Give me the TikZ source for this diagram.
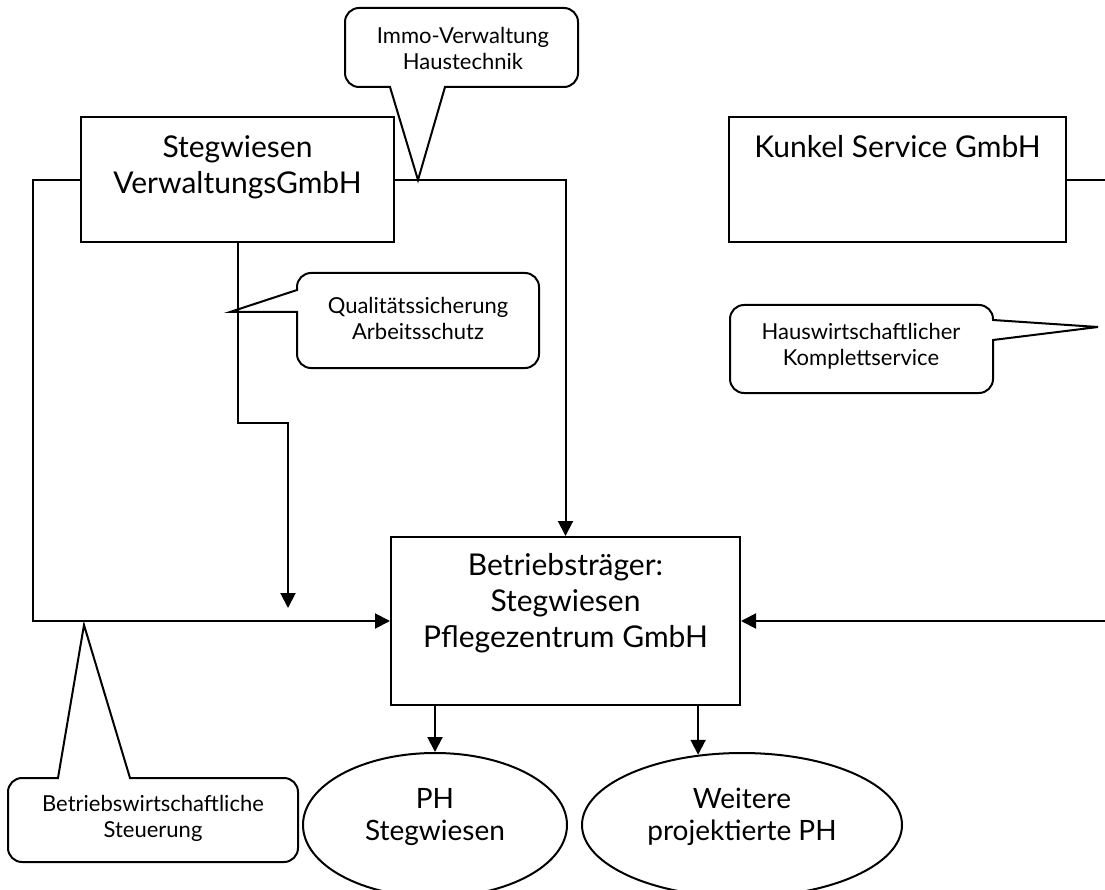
\documentclass[tikz,border=0pt]{standalone}
\usepackage{fontspec}
\setmainfont{Lato}
\usetikzlibrary{positioning,arrows.meta,shapes.geometric}

\begin{document}
\begin{tikzpicture}[x=1pt, y=-1pt, line width=2pt,
        box/.style={draw, rectangle, inner sep=0pt},
        blob/.style={draw, ellipse, inner sep=0pt},
        big/.style={align=center, inner sep=0pt, font=\fontsize{30}{36}\selectfont},
        mid/.style={align=center, inner sep=0pt, font=\fontsize{28}{32}\selectfont},
        small/.style={align=center, inner sep=0pt, font=\fontsize{22}{26}\selectfont},
        arr/.style={-{Triangle[length=15pt,width=15pt]}}]
    \useasboundingbox (0,0) rectangle (1105,890);
    \clip (0,0) rectangle (1105,890);

    % boxes
    \node[box, minimum width=313pt, minimum height=125pt] (verw) at (237.5,180) {};
    \node[big, anchor=north] (verwtext) at ([yshift=-18pt]verw.north)
        {Stegwiesen\\VerwaltungsGmbH};
    \node[box, minimum width=337pt, minimum height=125pt] (kunkel) at (897.5,180) {};
    \node[big, anchor=north] (kunkeltext) at ([yshift=-18pt]kunkel.north)
        {Kunkel Service GmbH};
    \node[box, minimum width=349pt, minimum height=168pt] (betr) at (565.5,621) {};
    \node[big, anchor=north] (betrtext) at ([yshift=-16pt]betr.north)
        {Betriebstr\"ager:\\Stegwiesen\\Pflegezentrum GmbH};

    % homes
    \node[blob, minimum width=264pt, minimum height=144pt] (ph) at (435,825) {};
    \node[mid] (phtext) at (435,817) {PH\\Stegwiesen};
    \node[blob, minimum width=320pt, minimum height=144pt] (wt) at (742,825) {};
    \node[mid] (wttext) at (742,817) {Weitere\\projektierte PH};

    % connectors
    \coordinate (lft) at (33,400);
    \coordinate (qknee) at (288,423);
    \coordinate (qend) at (288,608);
    \coordinate (kr) at (1105,180);
    \coordinate (br) at (1105,621);
    \draw[arr] (verw.west) -| (lft) |- (betr.west);
    \draw[arr] (verw.east) -| (betr.north);
    \draw[arr] (verw.south) |- (qknee) -- (qend);
    \draw (kunkel.east) -- (kr);
    \draw[arr] (br) -- (betr.east);
    \draw[arr] (betr.south -| ph.north) -- (ph.north);
    \draw[arr] (betr.south -| wt.122) -- (wt.122);

    % callouts
    \draw (445,87) [rounded corners=14pt] -- (578,87) -- (578,8) -- (345,8)
        -- (345,87) [sharp corners] -- (390,87) -- (418,180) -- cycle;
    \node[small] (immo) at (463,48) {Immo-Verwaltung\\Haustechnik};

    \draw (297,312) [rounded corners=14pt] -- (297,368) -- (539,368) -- (539,273)
        -- (297,273) [sharp corners] -- (297,290) -- (230,312) -- cycle;
    \node[small] (qual) at (418,318) {Qualit\"atssicherung\\Arbeitsschutz};

    \draw (993,340) [rounded corners=14pt] -- (993,393) -- (730,393) -- (730,305)
        -- (993,305) [sharp corners] -- (993,320) -- (1098,327) -- cycle;
    \node[small] (haus) at (861,346) {Hauswirtschaftlicher\\Komplettservice};

    \draw (130,778) [rounded corners=14pt] -- (298,778) -- (298,862) -- (8,862)
        -- (8,778) [sharp corners] -- (58,778) -- (84,625) -- cycle;
    \node[small] (bws) at (153,818) {Betriebswirtschaftliche\\Steuerung};
\end{tikzpicture}
\end{document}
